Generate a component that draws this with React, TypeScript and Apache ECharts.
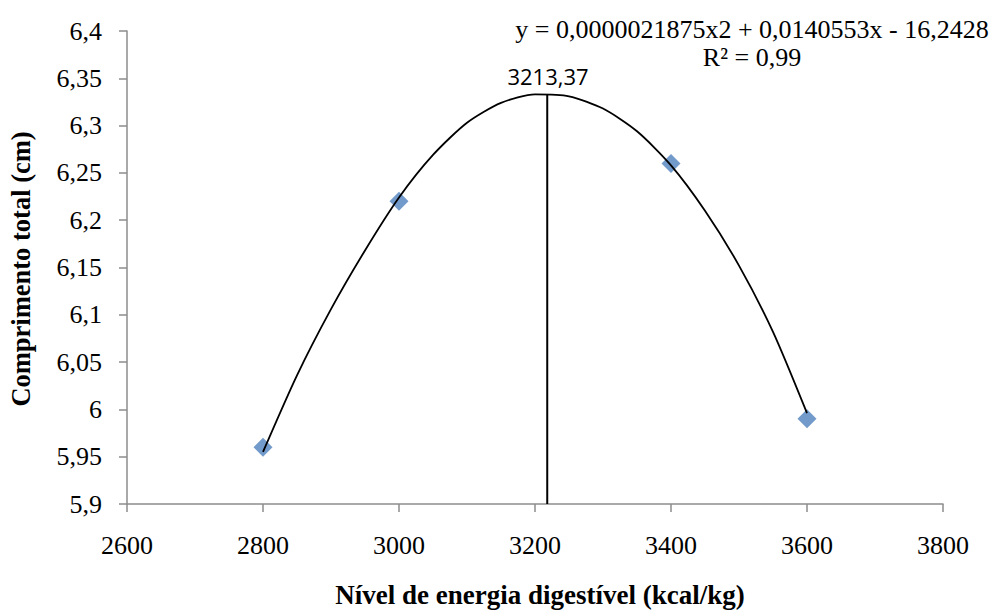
import React, { useEffect, useRef } from "react";
import * as echarts from "echarts";

// Observed data (Nível de energia digestível vs Comprimento total)
const energyLevels = [2800, 3000, 3400, 3600];
const lengthValues = [5.96, 6.22, 6.26, 5.99];

// Trend curve, points
const curveX = [2800, 2850, 2900, 2950, 3000, 3050, 3100, 3150, 3200, 3250, 3300, 3350, 3400, 3450, 3500, 3550, 3600];
const curveY = [5.955, 6.036, 6.106, 6.168, 6.224, 6.269, 6.303, 6.324, 6.333, 6.331, 6.318, 6.294, 6.258, 6.21, 6.152, 6.082, 5.996];

// Peak marker line (drawn position) and its label
const peakLineX = 3218;
const peakLineY = [5.9, 6.333];
const peakLabel = "3213,37";

const equationText = "y = 0,0000021875x2 + 0,0140553x - 16,2428";
const r2Text = "R² = 0,99";
const xTitle = "Nível de energia digestível (kcal/kg)";
const yTitle = "Comprimento total (cm)";

const serifFamily = "Liberation Serif";

export default function App() {
  const ref = useRef<HTMLDivElement>(null);
  useEffect(() => {
    if (!ref.current) return;
    const chart = echarts.init(ref.current, null, { renderer: "svg" });
    const fmtY = (v: number) => (Math.round(v * 100) / 100).toString().replace(".", ",");
    const textStyle = (size: number, bold = false) => ({
      fontFamily: serifFamily,
      fontSize: size,
      fontWeight: bold ? "bold" : "normal",
      fill: "#000",
      textAlign: "center",
      textVerticalAlign: "middle",
    });
    chart.setOption({
      animation: false,
      backgroundColor: "#ffffff",
      textStyle: { fontFamily: serifFamily },
      grid: { left: 127, right: 57, top: 31, bottom: 106 },
      xAxis: {
        type: "value",
        min: 2600,
        max: 3800,
        interval: 200,
        splitLine: { show: false },
        axisLine: { show: true, onZero: false, lineStyle: { color: "#8c8c8c", width: 1.5 } },
        axisTick: { show: true, length: 8, lineStyle: { color: "#8c8c8c", width: 1.5 } },
        axisLabel: {
          color: "#000",
          fontFamily: serifFamily,
          fontSize: 26,
          margin: 28,
          formatter: (v: number) => String(v),
        },
      },
      yAxis: {
        type: "value",
        min: 5.9,
        max: 6.4,
        interval: 0.05,
        splitLine: { show: false },
        axisLine: { show: true, lineStyle: { color: "#8c8c8c", width: 1.5 } },
        axisTick: { show: true, length: 8, lineStyle: { color: "#8c8c8c", width: 1.5 } },
        axisLabel: { color: "#000", fontFamily: serifFamily, fontSize: 26, margin: 25, formatter: fmtY },
      },
      series: [
        {
          type: "scatter",
          data: energyLevels.map((x, i) => [x, lengthValues[i]]),
          symbol: "diamond",
          symbolSize: 19,
          itemStyle: { color: "#4F81BD" },
          z: 2,
        },
        {
          type: "line",
          data: curveX.map((x, i) => [x, curveY[i]]),
          smooth: 0.25,
          showSymbol: false,
          lineStyle: { color: "#000", width: 1.8 },
          z: 3,
        },
        {
          type: "line",
          data: peakLineY.map((y) => [peakLineX, y]),
          showSymbol: false,
          symbol: "none",
          lineStyle: { color: "#000", width: 2 },
          z: 3,
        },
      ],
      graphic: [
        {
          type: "text",
          x: 548,
          y: 76,
          style: {
            text: peakLabel,
            fontFamily: "Open Sans",
            fontSize: 22,
            fill: "#000",
            textAlign: "center",
            textVerticalAlign: "middle",
          },
        },
        { type: "text", x: 752, y: 29, style: { text: equationText, ...textStyle(26) } },
        { type: "text", x: 752, y: 57, style: { text: r2Text, ...textStyle(26) } },
        { type: "text", x: 540, y: 595, style: { text: xTitle, ...textStyle(27, true) } },
        { type: "text", x: 21, y: 269, rotation: Math.PI / 2, style: { text: yTitle, ...textStyle(26.5, true) } },
      ],
    });
    return () => chart.dispose();
  }, []);
  return <div ref={ref} style={{ width: 1000, height: 610, position: "absolute", left: 0, top: 0 }} />;
}
